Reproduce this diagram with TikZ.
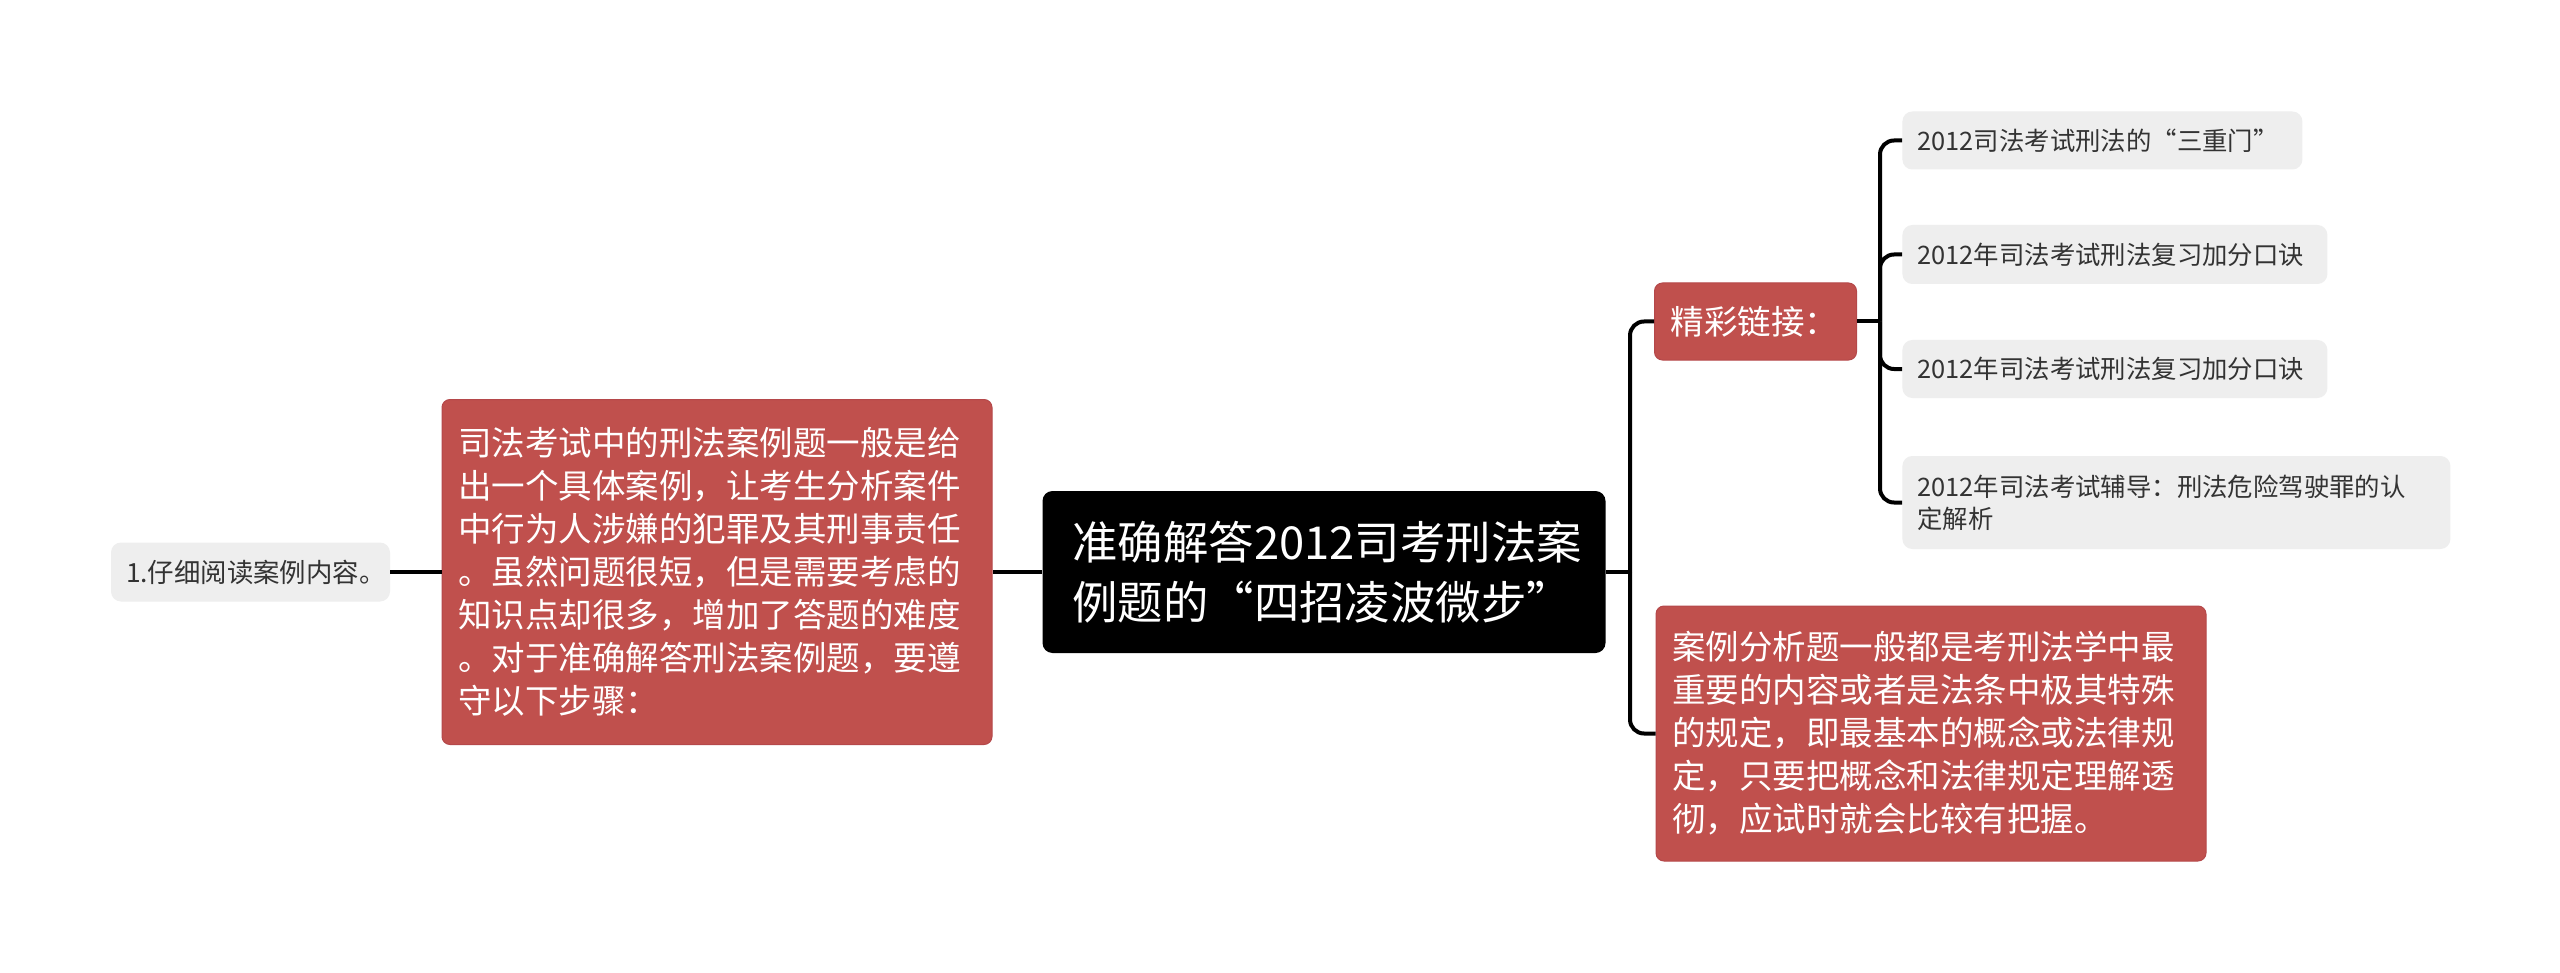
\documentclass[tikz,border=0pt]{standalone}
\usepackage{fontspec}
\setmainfont{Noto Sans CJK SC}
\definecolor{boxred}{HTML}{C0504D}
\definecolor{boxredline}{HTML}{B5484A}
\definecolor{leafgray}{HTML}{EEEEEE}
\definecolor{leaftext}{HTML}{333333}
\begin{document}
\begin{tikzpicture}[x=0.5pt,y=-0.5pt,
  topic/.style={fill=black,text=white,rounded corners=5pt,align=left,inner xsep=15pt,inner ysep=0pt,font=\fontsize{22.7pt}{30pt}\selectfont},
  redbox/.style={fill=boxred,draw=boxredline,line width=0.5pt,text=white,rounded corners=4pt,align=left,inner xsep=8pt,inner ysep=0pt,font=\fontsize{16.75pt}{21.5pt}\selectfont},
  graybox/.style={fill=leafgray,text=leaftext,rounded corners=5pt,align=left,inner xsep=7.5pt,inner ysep=0pt,font=\fontsize{12.7pt}{16pt}\selectfont},
  link/.style={draw=black,line width=2pt,rounded corners=7pt}]
\fill[white] (0,0) rectangle (2560,973);
\useasboundingbox (0,0) rectangle (2560,973);

\node[topic,text width=251.5pt,minimum height=81pt] (root) at (1324,572) {准确解答2012司考刑法案\\例题的“四招凌波微步”};
\node[redbox,text width=259pt,minimum height=172.5pt] (n1) at (717,572) {司法考试中的刑法案例题一般是给\\出一个具体案例，让考生分析案件\\中行为人涉嫌的犯罪及其刑事责任\\。虽然问题很短，但是需要考虑的\\知识点却很多，增加了答题的难度\\。对于准确解答刑法案例题，要遵\\守以下步骤：};
\node[graybox,text width=124.5pt,minimum height=29.5pt,font=\fontsize{13.2pt}{16pt}\selectfont] (n11) at (250.5,572) {1.仔细阅读案例内容。};
\node[redbox,text width=85pt,minimum height=38.5pt] (jc) at (1755.5,321.5) {精彩链接：};
\node[redbox,text width=259pt,minimum height=127.5pt] (n3) at (1931,733.5) {案例分析题一般都是考刑法学中最\\重要的内容或者是法条中极其特殊\\的规定，即最基本的概念或法律规\\定，只要把概念和法律规定理解透\\彻，应试时就会比较有把握。};
\node[graybox,text width=185pt,minimum height=29pt,anchor=west] (l1) at (1902,140.5) {2012司法考试刑法的“三重门”};
\node[graybox,text width=197.5pt,minimum height=29.5pt,anchor=west] (l2) at (1902,254.5) {2012年司法考试刑法复习加分口诀};
\node[graybox,text width=197.5pt,minimum height=29pt,anchor=west] (l3) at (1902,369) {2012年司法考试刑法复习加分口诀};
\node[graybox,text width=259pt,minimum height=46.5pt,anchor=west] (l4) at (1902,502.5) {2012年司法考试辅导：刑法危险驾驶罪的认\\定解析};

\coordinate (t1) at (1630,572);
\coordinate (t2) at (1880,321.5);

\path[link] (root) -- (n1);
\path[link] (n1) -- (n11);
\path[link] (root) -- (t1);
\path[link] (t1) |- (jc);
\path[link] (t1) |- (n3);
\path[link] (jc) -- (t2);
\path[link] (t2) |- (l1);
\path[link] (t2) |- (l2);
\path[link] (t2) |- (l3);
\path[link] (t2) |- (l4);
\end{tikzpicture}
\end{document}
